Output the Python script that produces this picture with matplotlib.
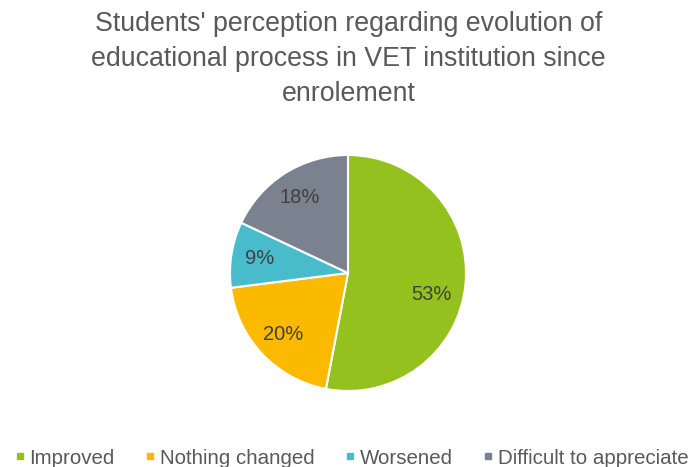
import matplotlib
matplotlib.use("Agg")
import matplotlib.pyplot as plt
from matplotlib.lines import Line2D

categories = ["Improved", "Nothing changed", "Worsened", "Difficult to appreciate"]
values = [53, 20, 9, 18]
colors = ["#95C11F", "#FBBA00", "#48BCCB", "#7A8290"]
title = "Students' perception regarding evolution of\neducational process in VET institution since\nenrolement"

plt.rcParams['font.family'] = ['Liberation Sans', 'DejaVu Sans']

fig = plt.figure(figsize=(6.97, 4.67), dpi=100)
fig.patch.set_facecolor("white")

cx, cy, r = 348, 273, 118
W, H = 697, 467
ax = fig.add_axes([(cx - r) / W, (H - cy - r) / H, 2 * r / W, 2 * r / H])
wedges, texts, autotexts = ax.pie(
    values, colors=colors, startangle=90, counterclock=False,
    autopct=lambda p: f"{p:.0f}%", pctdistance=0.76,
    wedgeprops=dict(edgecolor="white", linewidth=1.5),
    textprops=dict(fontsize=14.5, color="#404040"))
# Excel "best fit" places the largest label a bit lower
x0, y0 = autotexts[0].get_position()
autotexts[0].set_position((x0 - 0.05, y0 - 0.11))
ax.set_xlim(-1, 1)
ax.set_ylim(-1, 1)
ax.set_aspect("equal")
ax.axis("off")

fig.text(0.5, 1 - 59 / H, title, ha="center", va="center", fontsize=19.3,
         color="#595959", linespacing=1.45)

handles = [Line2D([0], [0], marker="s", linestyle="none", markersize=3.8,
                  markerfacecolor=c, markeredgecolor=c) for c in colors]
fig.legend(handles, categories, loc="center", bbox_to_anchor=(352 / W, 1 - 458 / H),
           ncol=4, frameon=False, fontsize=14.8, handlelength=0.4, handletextpad=0.25,
           columnspacing=1.55, labelcolor="#595959", borderpad=0, borderaxespad=0)

fig.savefig("out.png", dpi=100, facecolor="white")
